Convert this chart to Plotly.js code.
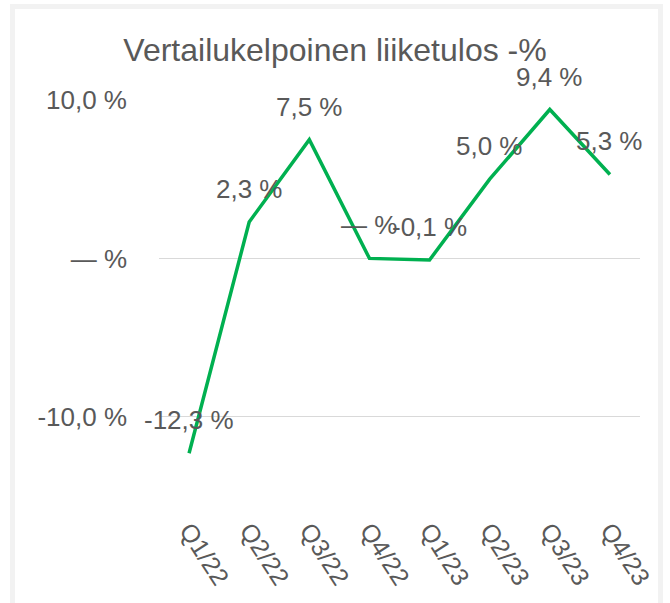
<!DOCTYPE html>
<html>
<head>
<meta charset="utf-8">
<script src="https://cdn.plot.ly/plotly-3.0.1.min.js"></script>
<style>
  html, body { margin: 0; padding: 0; background: #ffffff; }
  #frame { position: absolute; left: 10px; top: 4px; width: 653px; height: 620px;
           border: 5px solid #f2f2f2; border-bottom: none; box-sizing: border-box; }
  #chart { position: absolute; left: 0; top: 0; width: 670px; height: 603px; }
</style>
</head>
<body>
<div id="frame"></div>
<div id="chart"></div>
<script>
const categories = ["Q1/22", "Q2/22", "Q3/22", "Q4/22", "Q1/23", "Q2/23", "Q3/23", "Q4/23"];
const values = [-12.3, 2.3, 7.5, 0.0, -0.1, 5.0, 9.4, 5.3];
const valueLabels = ["-12,3 %", "2,3 %", "7,5 %", "— %", "-0,1 %", "5,0 %", "9,4 %", "5,3 %"];
const yTickVals = [-10, 0, 10];
const yTickText = ["-10,0 %", "— %", "10,0 %"];

const textColor = "#595959";
const fontFamily = "Liberation Sans, Arial, sans-serif";

const trace = {
  x: categories,
  y: values,
  type: "scatter",
  mode: "lines",
  line: { color: "#00B050", width: 3.5 },
  hoverinfo: "skip"
};

const annotations = categories.map((c, i) => ({
  x: c, y: values[i], xref: "x", yref: "y",
  text: valueLabels[i], showarrow: false, yshift: 33,
  font: { family: fontFamily, size: 26, color: textColor }
}));

const layout = {
  width: 670, height: 603,
  paper_bgcolor: "rgba(0,0,0,0)",
  plot_bgcolor: "rgba(0,0,0,0)",
  margin: { l: 159, r: 30, t: 100, b: 107, autoexpand: false },
  showlegend: false,
  title: {
    text: "Vertailukelpoinen liiketulos -%",
    font: { family: fontFamily, size: 32, color: textColor },
    x: 0.5, xref: "container", xanchor: "center",
    y: 39, yref: "container", yanchor: "middle"
  },
  xaxis: {
    type: "category",
    range: [-0.5, 7.5],
    showgrid: false, zeroline: false, showline: false,
    ticks: "", tickangle: 57,
    ticklabelstandoff: 14,
    tickfont: { family: fontFamily, size: 25, color: textColor },
    automargin: false
  },
  yaxis: {
    range: [-15, 10],
    tickvals: yTickVals, ticktext: yTickText,
    showgrid: true, gridcolor: "#d9d9d9", gridwidth: 1,
    zeroline: false, showline: false, ticks: "",
    ticklabelstandoff: 31,
    tickfont: { family: fontFamily, size: 26, color: textColor },
    automargin: false
  },
  annotations: annotations
};

Plotly.newPlot("chart", [trace], layout, { displayModeBar: false, staticPlot: true });
</script>
</body>
</html>
